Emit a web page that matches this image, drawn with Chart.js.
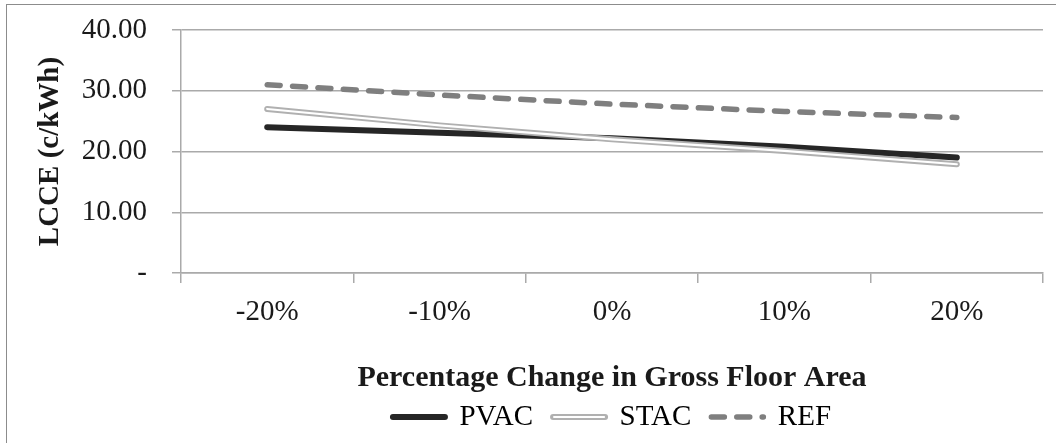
<!DOCTYPE html>
<html>
<head>
<meta charset="utf-8">
<script src="https://cdn.jsdelivr.net/npm/chart.js@4"></script>
<style>
  html, body { margin: 0; padding: 0; background: #fff; }
  #wrap { position: relative; width: 1056px; height: 443px; overflow: hidden; }
  #frame { position: absolute; left: 6px; top: 4px; width: 1100px; height: 500px;
           border-left: 1.5px solid #8c8c8c; border-top: 1.5px solid #8c8c8c; }
  canvas { position: absolute; left: 0; top: 0; }
</style>
</head>
<body>
<div id="wrap">
  <div id="frame"></div>
  <canvas id="chart" width="1056" height="443"></canvas>
</div>
<script>
const categories = ['-20%', '-10%', '0%', '10%', '20%'];
const pvac = [24.0, 23.1, 22.2, 20.8, 19.0];
const stac = [27.0, 24.3, 22.0, 20.1, 17.9];
const ref  = [31.0, 29.3, 27.8, 26.6, 25.6];
const yMin = 0, yMax = 40, yStep = 10;

Chart.defaults.font.family = "'Liberation Serif', 'Times New Roman', serif";
Chart.defaults.color = '#1a1a1a';

const gridGray = '#aaaaaa';

// white core of the STAC legend sample (double line look)
const stacLegendCore = {
  id: 'stacLegendCore',
  afterDraw(chart) {
    const lg = chart.legend;
    const box = lg.legendHitBoxes[1];
    if (!box) return;
    const fs = lg.options.labels.font.size;
    const w = lg.options.labels.pointStyleWidth;
    const ctx = chart.ctx;
    ctx.save();
    ctx.strokeStyle = '#ffffff';
    ctx.lineWidth = 2.2;
    ctx.lineCap = 'round';
    ctx.beginPath();
    ctx.moveTo(box.left + 1, box.top + fs / 2);
    ctx.lineTo(box.left + w - 1, box.top + fs / 2);
    ctx.stroke();
    ctx.restore();
  }
};

new Chart(document.getElementById('chart'), {
  type: 'line',
  data: {
    labels: categories,
    datasets: [
      { label: 'PVAC', data: pvac, borderColor: '#262626', borderWidth: 6, order: 3 },
      { label: 'STAC', data: stac, borderColor: '#b0b0b0', borderWidth: 6, order: 2 },
      { label: 'STAC core', data: stac, borderColor: '#ffffff', borderWidth: 2.2, order: 1 },
      { label: 'REF', data: ref, borderColor: '#7f7f7f', borderWidth: 5.5,
        borderDash: [13, 12.4], order: 0 }
    ]
  },
  options: {
    responsive: false,
    animation: false,
    devicePixelRatio: 1,
    layout: { padding: { left: 0, right: 13, top: 30, bottom: 1.5 } },
    elements: {
      point: { radius: 0 },
      line: { tension: 0, fill: false, borderCapStyle: 'round', borderJoinStyle: 'round' }
    },
    plugins: {
      tooltip: { enabled: false },
      legend: {
        position: 'bottom',
        fullSize: false,
        labels: {
          font: { size: 29 },
          usePointStyle: true,
          pointStyleWidth: 52,
          padding: 20,
          generateLabels: () => [
            { text: 'PVAC', strokeStyle: '#262626', fillStyle: '#262626', lineWidth: 6,
              pointStyle: 'line', lineCap: 'round', datasetIndex: 0, hidden: false },
            { text: 'STAC', strokeStyle: '#b0b0b0', fillStyle: '#b0b0b0', lineWidth: 6,
              pointStyle: 'line', lineCap: 'round', datasetIndex: 1, hidden: false },
            { text: 'REF', strokeStyle: '#7f7f7f', fillStyle: '#7f7f7f', lineWidth: 5.5,
              pointStyle: 'line', lineCap: 'round', lineDash: [13, 12.4], datasetIndex: 3, hidden: false }
          ]
        }
      }
    },
    scales: {
      x: {
        offset: true,
        grid: { display: true, offset: true, drawOnChartArea: false, drawTicks: true,
                tickLength: 10, color: gridGray, lineWidth: 1.5 },
        border: { display: true, color: gridGray, width: 1.5 },
        ticks: { font: { size: 29 }, padding: 12, maxRotation: 0 },
        title: { display: true, text: 'Percentage Change in Gross Floor Area',
                 font: { size: 30, weight: 'bold', lineHeight: 1 },
                 padding: { top: 0, bottom: -10.5 } },
        afterFit: (scale) => { scale.height = 109.5; }
      },
      y: {
        min: yMin,
        max: yMax,
        grid: { color: gridGray, lineWidth: 1.5, tickLength: 9 },
        border: { display: true, color: gridGray, width: 1.5 },
        ticks: {
          stepSize: yStep,
          font: { size: 29 },
          padding: 25,
          callback: (v) => (v === 0 ? '-' : v.toFixed(2))
        },
        title: { display: true, text: 'LCCE (c/kWh)',
                 font: { size: 29, weight: 'bold', lineHeight: 1 },
                 padding: { top: 36, bottom: 0 } },
        afterFit: (scale) => {
          scale.width = 181;
          scale.paddingTop = 0;
          scale.paddingBottom = 0;
        }
      }
    }
  },
  plugins: [stacLegendCore]
});
</script>
</body>
</html>
